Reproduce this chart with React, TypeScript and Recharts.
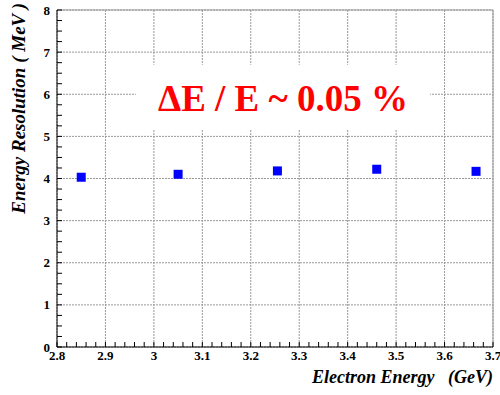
import React from "react";
import { ScatterChart, Scatter, XAxis, YAxis, CartesianGrid, ReferenceArea, ReferenceLine, Label } from "recharts";

// measured points
const energies = [2.85, 3.05, 3.255, 3.46, 3.665];
const resolutions = [4.03, 4.1, 4.18, 4.22, 4.17];

const xMajor = [2.8, 2.9, 3, 3.1, 3.2, 3.3, 3.4, 3.5, 3.6, 3.7];
const xLabels = ["2.8", "2.9", "3", "3.1", "3.2", "3.3", "3.4", "3.5", "3.6", "3.7"];
const yMajor = [0, 1, 2, 3, 4, 5, 6, 7, 8];
const yLabels = ["0", "1", "2", "3", "4", "5", "6", "7", "8"];
const xSub = 5;
const ySub = 4;

const note = "\u0394E / E ~ 0.05 %";
const xTitle = "Electron Energy   (GeV)";
const yTitle = "Energy Resolution ( MeV )";

const serif = "'Liberation Serif', 'Times New Roman', serif";

function minorTicks(major: number[], sub: number) {
  const out: number[] = [];
  for (let i = 0; i < major.length - 1; i++) {
    const step = (major[i + 1] - major[i]) / sub;
    for (let k = 0; k < sub; k++) out.push(Math.round((major[i] + k * step) * 1e6) / 1e6);
  }
  out.push(major[major.length - 1]);
  return out;
}

const xTicks = minorTicks(xMajor, xSub);
const yTicks = minorTicks(yMajor, ySub);
const data = energies.map((x, i) => ({ x, y: resolutions[i] }));

function XTick(props: any) {
  const i = xMajor.findIndex((m) => Math.abs(m - props.payload.value) < 1e-6);
  if (i < 0) return <g />;
  return (
    <text x={props.x} y={props.y} dy="0.71em" textAnchor="middle" fontSize={13} fontWeight="bold" fontFamily={serif} fill="#000">
      {xLabels[i]}
    </text>
  );
}

function YTick(props: any) {
  const i = yMajor.findIndex((m) => Math.abs(m - props.payload.value) < 1e-6);
  if (i < 0) return <g />;
  return (
    <text x={props.x} y={props.y} dy="0.355em" textAnchor="end" fontSize={13} fontWeight="bold" fontFamily={serif} fill="#000">
      {yLabels[i]}
    </text>
  );
}

const Square = (p: any) => <rect x={p.cx - 4.5} y={p.cy - 4.5} width={9} height={9} fill="#0000ff" />;

export default function App() {
  return (
    <div style={{ width: 500, height: 395, background: "#fff" }}>
      <style>{"body{margin:0}"}</style>
      <ScatterChart width={500} height={395} margin={{ top: 10, right: 7, left: 0, bottom: 0 }}>
        <CartesianGrid xAxisId="g" yAxisId="g" stroke="#999" strokeDasharray="2 1" />
        <XAxis xAxisId="g" type="number" dataKey="x" domain={[2.8, 3.7]} ticks={xMajor} interval={0} hide allowDataOverflow />
        <YAxis yAxisId="g" type="number" dataKey="y" domain={[0, 8]} ticks={yMajor} interval={0} hide allowDataOverflow />
        <XAxis
          type="number"
          dataKey="x"
          domain={[2.8, 3.7]}
          ticks={xTicks}
          interval={0}
          height={48}
          allowDataOverflow
          tickSize={-5}
          tickMargin={9}
          tickLine={{ stroke: "#000" }}
          axisLine={{ stroke: "#000" }}
          tick={<XTick />}
        >
          <Label
            content={({ viewBox }: any) => (
              <text x={viewBox.x + viewBox.width} y={viewBox.y + 36} textAnchor="end" fontSize={18} fontWeight="bold" fontStyle="italic" fontFamily={serif} fill="#000" style={{ whiteSpace: "pre" }}>
                {xTitle}
              </text>
            )}
          />
        </XAxis>
        <YAxis
          type="number"
          dataKey="y"
          domain={[0, 8]}
          ticks={yTicks}
          interval={0}
          width={57}
          allowDataOverflow
          tickSize={-5}
          tickMargin={12}
          tickLine={{ stroke: "#000" }}
          axisLine={{ stroke: "#000" }}
          tick={<YTick />}
        >
          <Label
            content={({ viewBox }: any) => (
              <text
                x={viewBox.x + 25}
                y={viewBox.y - 7}
                transform={`rotate(-90, ${viewBox.x + 25}, ${viewBox.y - 7})`}
                textAnchor="end"
                fontSize={19}
                fontWeight="bold"
                fontStyle="italic"
                fontFamily={serif}
                fill="#000"
              >
                {yTitle}
              </text>
            )}
          />
        </YAxis>
        <ReferenceLine y={8} stroke="#999" strokeWidth={1} />
        <ReferenceLine x={3.7} stroke="#999" strokeWidth={1} />
        <ReferenceArea
          x1={2.963}
          x2={3.57}
          y1={5.15}
          y2={6.7}
          fill="#fff"
          fillOpacity={1}
          stroke="none"
          label={{ value: note, position: "center", fill: "#ff0000", fontSize: 37, fontWeight: "bold", fontFamily: serif }}
        />
        <Scatter data={data} shape={Square} isAnimationActive={false} />
      </ScatterChart>
    </div>
  );
}
